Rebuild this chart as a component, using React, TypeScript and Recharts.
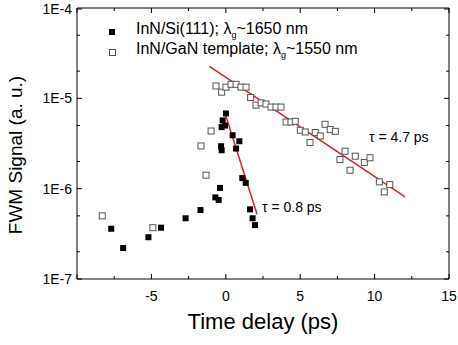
import React from "react";
import { ComposedChart, Scatter, Line, XAxis, YAxis } from "recharts";

// InN/Si(111) — filled squares
const siTime = [-7.7, -6.9, -5.2, -4.35, -2.7, -1.7, -0.7, -0.48, -0.39, -0.32, -0.28, -0.28, -0.21, -0.05, 0.01, 0.46, 0.91, 0.69, 1.11, 1.34, 1.63, 1.8, 1.96];
const siSignal = [3.6e-7, 2.2e-7, 2.9e-7, 3.7e-7, 4.7e-7, 5.8e-7, 8.0e-7, 7.5e-7, 1.02e-6, 2.95e-6, 2.66e-6, 4.8e-6, 5.7e-6, 5.0e-6, 6.8e-6, 3.9e-6, 3.35e-6, 2.78e-6, 1.31e-6, 1.16e-6, 5.9e-7, 4.7e-7, 3.95e-7];

// InN/GaN template — open squares
const ganTime = [-8.3, -4.9, -1.67, -1.33, -0.99, -0.66, -0.28, 0.01, 0.35, 0.69, 1.02, 1.36, 1.67, 2.03, 2.37, 2.7, 3.04, 3.37, 3.71, 4.05, 4.38, 4.67, 5.01, 5.34, 5.66, 6.01, 6.35, 6.67, 7.02, 7.36, 7.67, 8.01, 8.35, 8.7, 9.31, 9.69, 10.32, 10.65, 11.02];
const ganSignal = [5.0e-7, 3.7e-7, 2.97e-6, 1.41e-6, 4.35e-6, 1.37e-5, 1.17e-5, 1.33e-5, 1.43e-5, 1.43e-5, 1.33e-5, 1.33e-5, 1.02e-5, 8.4e-6, 8.9e-6, 8.65e-6, 8.0e-6, 8.0e-6, 8.0e-6, 5.47e-6, 5.47e-6, 5.57e-6, 4.43e-6, 4.24e-6, 3.24e-6, 4.18e-6, 3.83e-6, 5.16e-6, 4.51e-6, 4.31e-6, 2.1e-6, 2.6e-6, 1.6e-6, 2.29e-6, 1.95e-6, 2.2e-6, 1.19e-6, 9.2e-7, 1.11e-6];

// exponential fits (end points)
const fitFastTime = [-0.05, 2.1];
const fitFastSignal = [6.8e-6, 5.2e-7];
const fitSlowTime = [-1.1, 12.05];
const fitSlowSignal = [2.26e-5, 8.1e-7];

const xTicks = [-10, -7.5, -5, -2.5, 0, 2.5, 5, 7.5, 10, 12.5, 15];
const yTicks: number[] = [];
[-7, -6, -5].forEach((e) => {
  for (let m = 1; m < 10; m++) yTicks.push(m * Math.pow(10, e));
});
yTicks.push(1e-4);

const zip = (xs: number[], ys: number[]) => xs.map((x, i) => ({ x, y: ys[i] }));
const siData = zip(siTime, siSignal);
const ganData = zip(ganTime, ganSignal);
const fastData = zip(fitFastTime, fitFastSignal);
const slowData = zip(fitSlowTime, fitSlowSignal);

const FONT = "'Liberation Sans', Arial, sans-serif";

const isDecade = (v: number) => Math.abs(Math.log10(v) - Math.round(Math.log10(v))) < 1e-6;

const YTick = (props: any) => {
  const { x, y, payload, side } = props;
  const v = payload.value;
  const major = isDecade(v);
  const len = major ? 5 : 3;
  const dir = side === "left" ? 1 : -1;
  return (
    <g>
      <line x1={x} y1={y} x2={x + dir * len} y2={y} stroke="#000" />
      {major && side === "left" && (
        <text x={x - 5} y={y} dy={5} textAnchor="end" fontSize={14} fontFamily={FONT} fill="#000">
          {`1E${Math.round(Math.log10(v))}`}
        </text>
      )}
    </g>
  );
};

const XTick = (props: any) => {
  const { x, y, payload, side } = props;
  const v = payload.value;
  const major = v % 5 === 0;
  const len = major ? 5 : 3;
  const dir = side === "bottom" ? -1 : 1;
  return (
    <g>
      <line x1={x} y1={y} x2={x} y2={y + dir * len} stroke="#000" />
      {major && side === "bottom" && v !== -10 && (
        <text x={x} y={y + 22} textAnchor="middle" fontSize={14} fontFamily={FONT} fill="#000">
          {v}
        </text>
      )}
    </g>
  );
};

const FilledSq = (p: any) => <rect x={p.cx - 3} y={p.cy - 3} width={6} height={6} fill="#000" />;
const OpenSq = (p: any) => (
  <rect x={p.cx - 3} y={p.cy - 3} width={6} height={6} fill="#fff" stroke="#555" strokeWidth={1} />
);

const txt: React.CSSProperties = { position: "absolute", fontFamily: FONT, color: "#000", whiteSpace: "nowrap" };

export default function App() {
  return (
    <div style={{ position: "absolute", left: 0, top: 0, width: 458, height: 345, background: "#fff" }}>
      <ComposedChart width={458} height={345} margin={{ top: 7, right: 8, left: 0, bottom: 0 }}>
        <XAxis
          dataKey="x"
          type="number"
          domain={[-10, 15]}
          ticks={xTicks}
          allowDataOverflow
          height={66}
          tickSize={0}
          tickMargin={0}
          axisLine={{ stroke: "#000" }}
          tick={(p: any) => <XTick {...p} side="bottom" />}
        />
        <XAxis
          xAxisId="top"
          orientation="top"
          dataKey="x"
          type="number"
          domain={[-10, 15]}
          ticks={xTicks}
          allowDataOverflow
          height={1}
          tickSize={0}
          tickMargin={0}
          axisLine={{ stroke: "#000" }}
          tick={(p: any) => <XTick {...p} side="top" />}
        />
        <YAxis
          dataKey="y"
          scale="log"
          type="number"
          domain={[1e-7, 1e-4]}
          ticks={yTicks}
          allowDataOverflow
          width={77}
          tickSize={0}
          tickMargin={0}
          axisLine={{ stroke: "#000" }}
          tick={(p: any) => <YTick {...p} side="left" />}
        />
        <YAxis
          yAxisId="right"
          orientation="right"
          dataKey="y"
          scale="log"
          type="number"
          domain={[1e-7, 1e-4]}
          ticks={yTicks}
          allowDataOverflow
          width={1}
          tickSize={0}
          tickMargin={0}
          axisLine={{ stroke: "#000" }}
          tick={(p: any) => <YTick {...p} side="right" />}
        />
        <Scatter data={ganData} dataKey="y" shape={OpenSq} isAnimationActive={false} />
        <Scatter data={siData} dataKey="y" shape={FilledSq} isAnimationActive={false} />
        <Line data={slowData} dataKey="y" stroke="#e0201c" strokeWidth={1.5} dot={false} isAnimationActive={false} />
        <Line data={fastData} dataKey="y" stroke="#e0201c" strokeWidth={1.5} dot={false} isAnimationActive={false} />
      </ComposedChart>

      {/* legend */}
      <div style={{ position: "absolute", left: 109, top: 29, width: 6, height: 6, background: "#000" }} />
      <div style={{ ...txt, left: 136, top: 20, fontSize: 16 }}>
        InN/Si(111); λ<sub style={{ fontSize: 9 }}>g</sub>~1650 nm
      </div>
      <div style={{ position: "absolute", left: 109, top: 49, width: 5, height: 5, border: "1px solid #555" }} />
      <div style={{ ...txt, left: 136, top: 40, fontSize: 16 }}>
        InN/GaN template; λ<sub style={{ fontSize: 9 }}>g</sub>~1550 nm
      </div>

      {/* fit annotations */}
      <div style={{ ...txt, left: 369, top: 129, fontSize: 14 }}>τ = 4.7 ps</div>
      <div style={{ ...txt, left: 262, top: 199, fontSize: 14 }}>τ = 0.8 ps</div>

      {/* axis titles */}
      <div style={{ ...txt, left: 0, top: 309, width: 458, paddingLeft: 77, paddingRight: 9, boxSizing: "border-box", textAlign: "center", fontSize: 22 }}>
        Time delay (ps)
      </div>
      <div
        style={{
          ...txt,
          left: 16,
          top: 155,
          fontSize: 19,
          transform: "translate(-50%, -50%) rotate(-90deg)",
        }}
      >
        FWM Signal (a. u.)
      </div>
    </div>
  );
}
